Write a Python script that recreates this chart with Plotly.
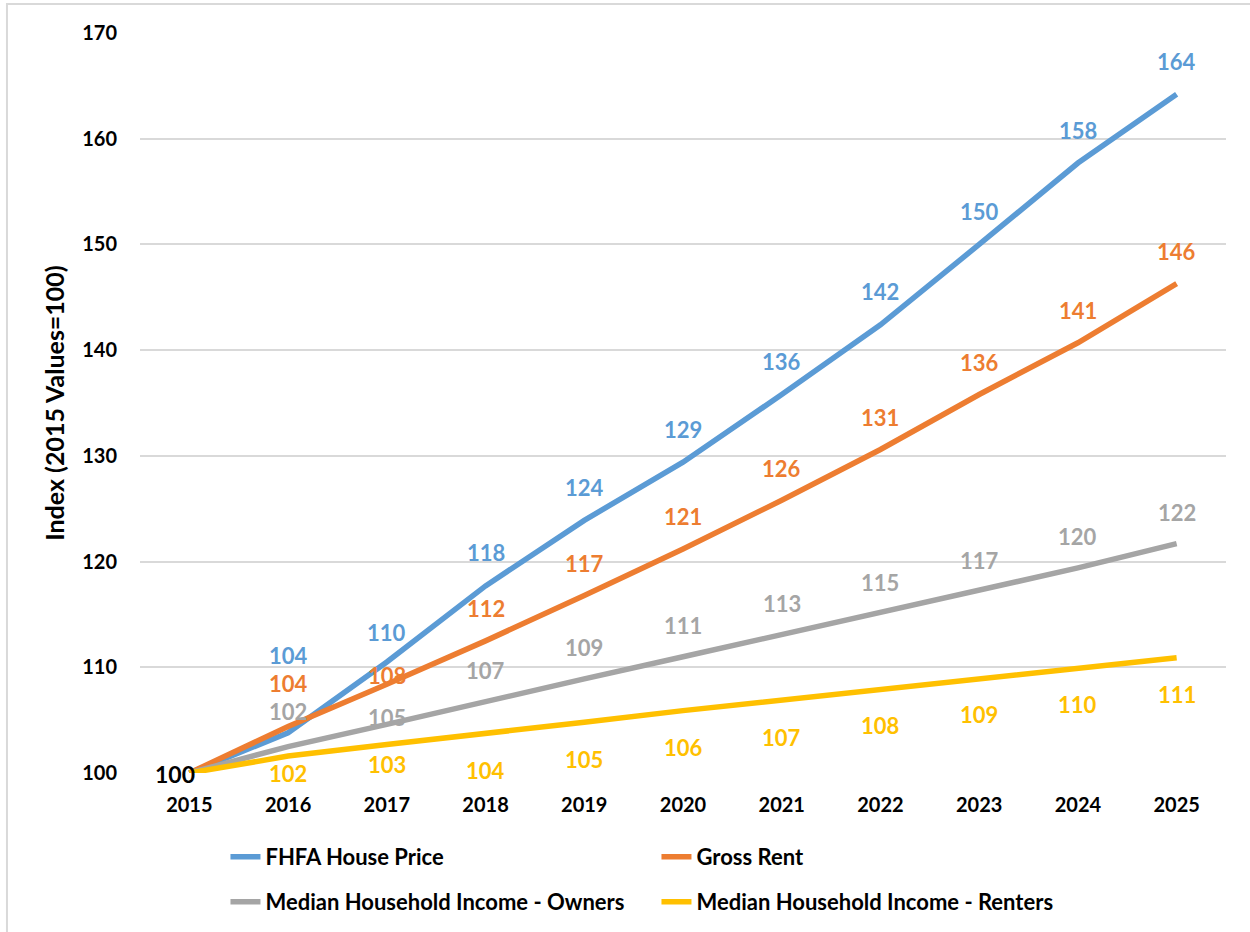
import plotly.graph_objects as go

years = ["2015", "2016", "2017", "2018", "2019", "2020", "2021", "2022", "2023", "2024", "2025"]

house_price = [100, 103.8, 110.5, 117.7, 123.9, 129.4, 135.8, 142.4, 150.0, 157.7, 164.2]
gross_rent = [100, 104.4, 108.4, 112.5, 116.8, 121.2, 125.8, 130.6, 135.8, 140.7, 146.3]
income_owners = [100, 102.5, 104.6, 106.8, 108.9, 111.0, 113.1, 115.1, 117.2, 119.4, 121.7]
income_renters = [100, 101.6, 102.7, 103.7, 104.8, 105.9, 106.9, 108.0, 109.0, 110.0, 110.9]

house_price_labels = ["", "104", "110", "118", "124", "129", "136", "142", "150", "158", "164"]
gross_rent_labels = ["", "104", "108", "112", "117", "121", "126", "131", "136", "141", "146"]
owners_labels = ["", "102", "105", "107", "109", "111", "113", "115", "117", "120", "122"]
renters_labels = ["", "102", "103", "104", "105", "106", "107", "108", "109", "110", "111"]
base_label = "100"

y_ticks = [100, 110, 120, 130, 140, 150, 160, 170]

FONT = "Lato"
series = [
    ("FHFA House Price", house_price, house_price_labels, "#5B9BD5",
     [0, 77, 30, 33, 33, 33, 33, 33, 33, 33, 33], "legend"),
    ("Gross Rent", gross_rent, gross_rent_labels, "#ED7D31",
     [0, 43, 9, 32, 32, 32, 32, 32, 32, 32, 32], "legend"),
    ("Median Household Income - Owners", income_owners, owners_labels, "#A5A5A5",
     [0, 35, 7, 31, 31, 31, 31, 31, 31, 31, 31], "legend2"),
    ("Median Household Income - Renters", income_renters, renters_labels, "#FFC000",
     [0, -17, -20, -37, -37, -37, -37, -37, -37, -37, -37], "legend2"),
]

fig = go.Figure()
annotations = []
for name, vals, labels, color, shifts, leg in series:
    fig.add_trace(go.Scatter(
        x=years, y=vals, mode="lines", name=name,
        line=dict(color=color, width=5.5), legend=leg,
    ))
    for i, (yv, t, s) in enumerate(zip(vals, labels, shifts)):
        if t:
            annotations.append(dict(
                x=i, y=yv, xref="x", yref="y", text=t, showarrow=False, yshift=s,
                xanchor="center", yanchor="middle",
                font=dict(family=FONT, size=22, color=color, weight="bold"),
            ))

annotations.append(dict(
    x=0, y=house_price[0], xref="x", yref="y", text=base_label, showarrow=False,
    xshift=-14, yshift=-1, xanchor="center", yanchor="middle",
    font=dict(family=FONT, size=23, color="black", weight="bold"),
))

legend_common = dict(
    orientation="h", xanchor="left", yanchor="middle",
    font=dict(family=FONT, size=22, color="black", weight="bold"),
    entrywidth=386, entrywidthmode="pixels", bgcolor="rgba(0,0,0,0)",
    itemclick=False,
)

fig.update_layout(
    width=1250, height=932,
    margin=dict(l=140, r=24, t=33, b=159, autoexpand=False),
    paper_bgcolor="white", plot_bgcolor="white",
    font=dict(family=FONT, size=20, color="black"),
    xaxis=dict(
        type="category", range=[-0.5, 10.5], showgrid=False, showline=False,
        zeroline=False, ticks="", ticklabelstandoff=18,
        tickfont=dict(family=FONT, size=20, color="black", weight="bold"),
    ),
    yaxis=dict(
        range=[100, 170], tickvals=y_ticks, showgrid=True, gridcolor="#D9D9D9",
        gridwidth=1.5, zeroline=False, showline=False, ticks="",
        ticklabelstandoff=22,
        tickfont=dict(family=FONT, size=20, color="black", weight="bold"),
        title=dict(text="Index (2015 Values=100)", standoff=10,
                   font=dict(family=FONT, size=25, color="black", weight="bold")),
    ),
    legend=dict(x=0.0787, y=-0.1135, **legend_common),
    legend2=dict(x=0.0787, y=-0.1743, **legend_common),
    annotations=annotations,
    shapes=[dict(type="rect", xref="paper", yref="paper",
                 x0=-0.1225, x1=1.2, y0=-0.5, y1=1.0392,
                 line=dict(color="#D9D9D9", width=2), layer="below")],
    showlegend=True,
)

fig.write_html("out.html")
